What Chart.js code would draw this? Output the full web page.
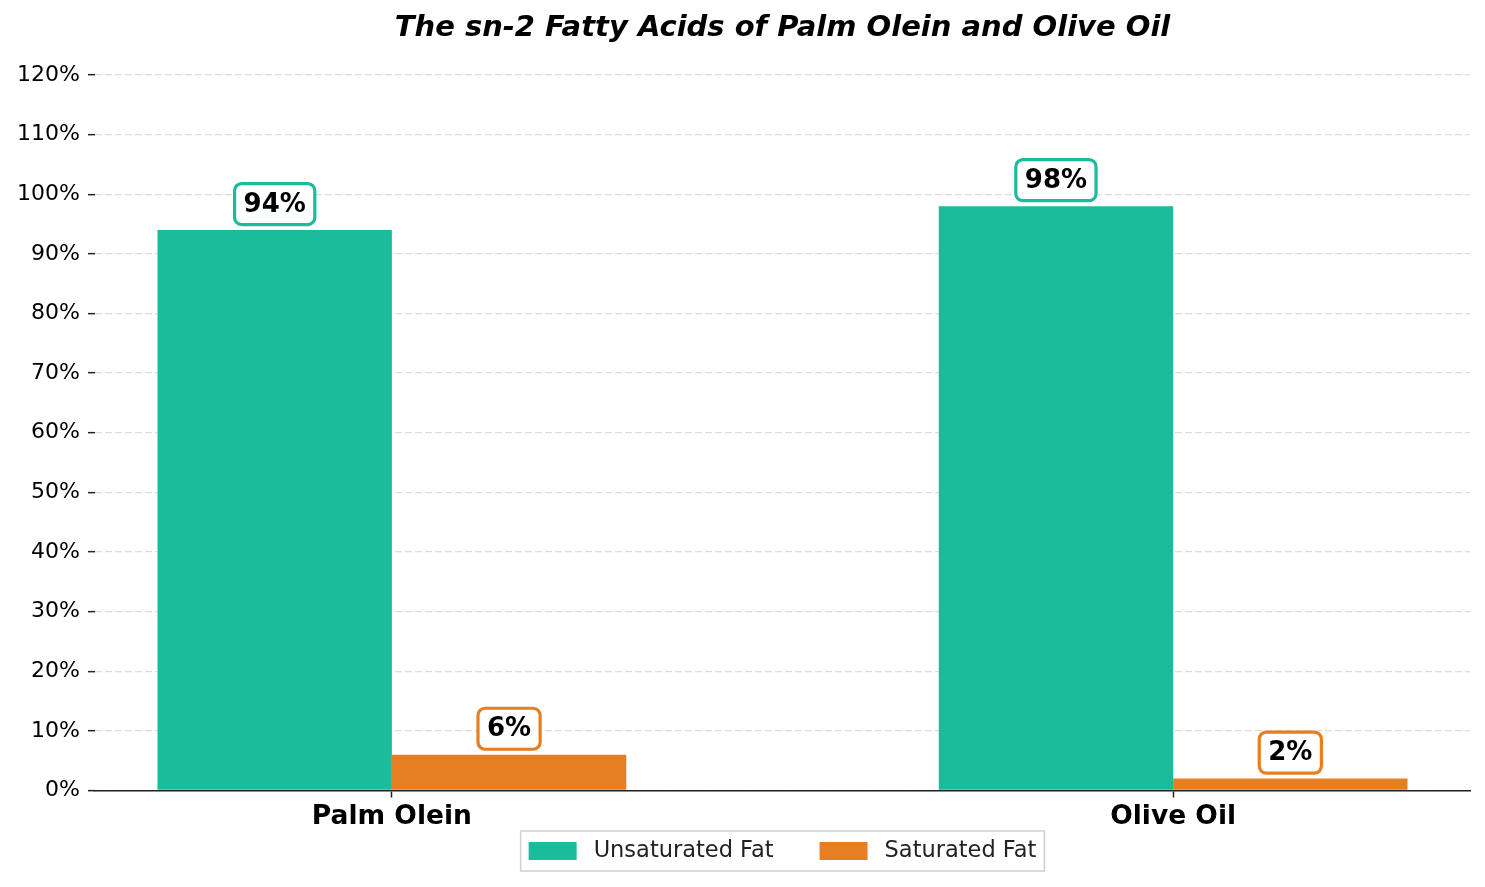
<!DOCTYPE html>
<html>
<head>
<meta charset="utf-8">
<script src="https://cdn.jsdelivr.net/npm/chart.js@4"></script>
<style>
html,body{margin:0;padding:0;background:#fff;}
#wrap{width:1485px;height:887px;}
</style>
</head>
<body>
<div id="wrap"><canvas id="c" width="1485" height="887"></canvas></div>
<script>
const categories = ["Palm Olein", "Olive Oil"];
const seriesNames = ["Unsaturated Fat", "Saturated Fat"];
const unsaturated = [94, 98];
const saturated = [6, 2];
const yTicks = [0,10,20,30,40,50,60,70,80,90,100,110,120];
const colors = ["#1abc9c", "#e67e22"];

const FONT = "'DejaVu Sans', sans-serif";

const valueLabels = {
  id: 'valueLabels',
  afterDatasetsDraw(chart) {
    const ctx = chart.ctx;
    chart.data.datasets.forEach((ds, di) => {
      const meta = chart.getDatasetMeta(di);
      meta.data.forEach((bar, i) => {
        const txt = ds.data[i].y + '%';
        ctx.save();
        ctx.font = "bold 26px " + FONT;
        const tw = ctx.measureText(txt).width;
        const w = tw + 18, h = 41;
        const cx = bar.x, cy = bar.y - 26;
        ctx.beginPath();
        ctx.roundRect(cx - w/2, cy - h/2, w, h, 7);
        ctx.fillStyle = '#fff';
        ctx.fill();
        ctx.lineWidth = 3.2;
        ctx.strokeStyle = ds.backgroundColor;
        ctx.stroke();
        ctx.fillStyle = '#000';
        ctx.textAlign = 'center';
        ctx.textBaseline = 'middle';
        ctx.fillText(txt, cx, cy + 1);
        ctx.restore();
      });
    });
  }
};

// Legend drawn below the axis, centred on the plot area, from the dataset labels/colours
const boxedLegend = {
  id: 'boxedLegend',
  afterDraw(chart) {
    const ctx = chart.ctx;
    const area = chart.chartArea;
    const ds = chart.data.datasets;
    ctx.save();
    ctx.font = "22.5px " + FONT;
    const patchW = 48, patchH = 18, gapText = 17, gapItem = 46, inner = 8;
    const widths = ds.map(d => ctx.measureText(d.label).width);
    let total = inner * 2;
    widths.forEach((w, i) => { total += patchW + gapText + w + (i < widths.length - 1 ? gapItem : 0); });
    const cx = (area.left + area.right) / 2;
    const cy = 851;
    const left = cx - total / 2;
    ctx.fillStyle = 'rgba(255,255,255,0.8)';
    ctx.fillRect(left, cy - 20, total, 40);
    ctx.strokeStyle = '#d0d0d0';
    ctx.lineWidth = 1.5;
    ctx.strokeRect(left, cy - 20, total, 40);
    let x = left + inner;
    ds.forEach((d, i) => {
      ctx.fillStyle = d.backgroundColor;
      ctx.fillRect(x, cy - patchH / 2, patchW, patchH);
      x += patchW + gapText;
      ctx.fillStyle = '#222';
      ctx.textAlign = 'left';
      ctx.textBaseline = 'middle';
      ctx.fillText(d.label, x, cy);
      x += widths[i] + gapItem;
    });
    ctx.restore();
  }
};

const toPoints = arr => arr.map((v, i) => ({x: i, y: v}));

new Chart(document.getElementById('c'), {
  type: 'bar',
  data: {
    datasets: [
      { label: seriesNames[0], data: toPoints(unsaturated), backgroundColor: colors[0], borderWidth: 0,
        categoryPercentage: 0.6, barPercentage: 1.0 },
      { label: seriesNames[1], data: toPoints(saturated), backgroundColor: colors[1], borderWidth: 0,
        categoryPercentage: 0.6, barPercentage: 1.0 }
    ]
  },
  options: {
    responsive: false,
    animation: false,
    devicePixelRatio: 1,
    layout: { padding: { left: 0, right: 15, top: 0, bottom: 51 } },
    scales: {
      x: {
        type: 'linear',
        min: -0.38,
        max: 1.38,
        offset: false,
        afterBuildTicks: (scale) => { scale.ticks = categories.map((c, i) => ({value: i})); },
        ticks: {
          callback: (v) => categories[v] !== undefined ? categories[v] : '',
          font: { family: FONT, size: 26.5, weight: 'bold', lineHeight: 1.0 },
          color: '#000',
          padding: 6,
          autoSkip: false,
          maxRotation: 0
        },
        grid: { offset: false, drawOnChartArea: false, drawTicks: true, tickLength: 7, tickColor: '#222', tickWidth: 1.5 },
        border: { display: true, color: '#222', width: 1.5 }
      },
      y: {
        min: 0,
        max: 120,
        afterBuildTicks: (scale) => { scale.ticks = yTicks.map(v => ({value: v})); },
        afterFit: (scale) => { scale.width = 95; },
        ticks: {
          callback: (v) => v + '%',
          font: { family: FONT, size: 22 },
          color: '#000',
          padding: 8
        },
        grid: { color: '#dddddd', lineWidth: 1.3, drawTicks: true, tickLength: 7, tickColor: '#222', tickWidth: 1.5 },
        border: { display: false, dash: [7, 3] }
      }
    },
    plugins: {
      title: {
        display: true,
        text: 'The sn-2 Fatty Acids of Palm Olein and Olive Oil',
        fullSize: false,
        color: '#000',
        font: { family: FONT, size: 29, weight: 'bold', style: 'italic', lineHeight: 1.2 },
        padding: { top: 11, bottom: 29.2 }
      },
      legend: { display: false },
      tooltip: { enabled: false }
    }
  },
  plugins: [valueLabels, boxedLegend]
});
</script>
</body>
</html>
